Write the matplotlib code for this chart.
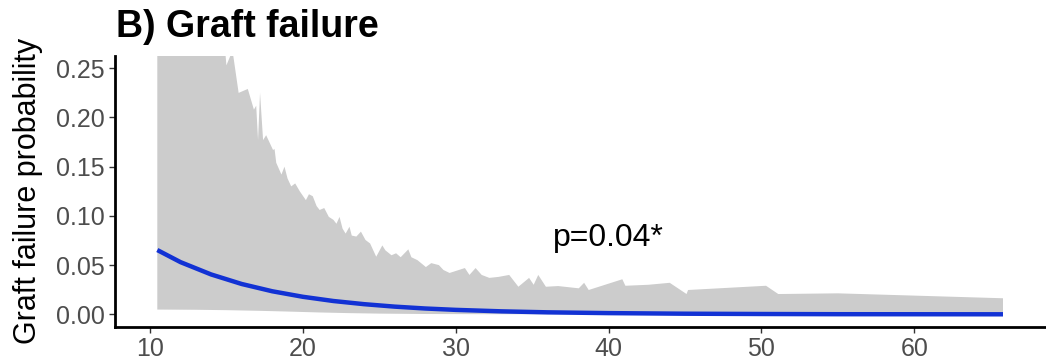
import matplotlib.pyplot as plt

plt.rcParams['font.family'] = ['Liberation Sans', 'DejaVu Sans']

# fitted curve
line_x = [10.48, 12, 14, 16, 18, 20, 22, 24, 26, 28, 30, 33, 36, 40, 45, 50, 55, 65.8]
line_y = [0.0653, 0.053, 0.0405, 0.0308, 0.0234, 0.0178, 0.0135, 0.0103, 0.0078, 0.0059,
          0.0045, 0.0030, 0.0020, 0.0012, 0.0006, 0.0003, 0.0001, 0.0]

# upper edge of the confidence band
upper_x = [10.48, 12.0, 13.5, 14.8, 15.0, 15.4, 15.8, 16.4, 16.8, 16.95, 17.07, 17.2, 17.4, 17.6,
           18.05, 18.15, 18.26, 18.6, 18.8, 19.0, 19.24, 19.5, 19.8, 20.2, 20.4, 20.65, 20.9,
           21.1, 21.4, 21.7, 22.0, 22.2, 22.4, 22.6, 22.8, 23.05, 23.2, 23.5, 23.8, 24.1, 24.4,
           24.8, 25.2, 25.4, 25.8, 26.1, 26.4, 26.9, 27.1, 27.5, 28.05, 28.4, 28.9, 29.2, 29.6,
           30.0, 30.6, 30.9, 31.3, 31.7, 32.2, 32.8, 33.5, 34.1, 34.8, 35.1, 35.4, 35.9, 36.7,
           38.05, 38.4, 38.7, 40.9, 41.1, 42.6, 44.0, 45.1, 45.2, 50.3, 51.1, 55.0, 65.8]
upper_y = [0.60, 0.45, 0.36, 0.29, 0.253, 0.268, 0.225, 0.229, 0.208, 0.212, 0.177, 0.225, 0.177,
           0.182, 0.167, 0.168, 0.154, 0.142, 0.150, 0.138, 0.130, 0.133, 0.125, 0.116, 0.122,
           0.120, 0.110, 0.106, 0.108, 0.099, 0.096, 0.092, 0.099, 0.087, 0.082, 0.089, 0.080,
           0.079, 0.084, 0.0755, 0.072, 0.0585, 0.070, 0.065, 0.060, 0.062, 0.058, 0.066, 0.058,
           0.055, 0.048, 0.052, 0.050, 0.045, 0.042, 0.044, 0.047, 0.040, 0.047, 0.040, 0.037,
           0.038, 0.040, 0.028, 0.037, 0.030, 0.040, 0.028, 0.0287, 0.0264, 0.032, 0.0247,
           0.0356, 0.029, 0.030, 0.032, 0.0206, 0.0247, 0.029, 0.0206, 0.0213, 0.0163]

# lower edge of the confidence band
lower_x = [10.48, 13.0, 15.0, 17.0, 19.0, 21.0, 23.0, 25.0, 28.0, 32.0, 40.0, 65.8]
lower_y = [0.0048, 0.0046, 0.0042, 0.0036, 0.0028, 0.0019, 0.0012, 0.0007, 0.0003, 0.0001, 0.0, 0.0]

x_ticks = [10, 20, 30, 40, 50, 60]
y_ticks = [0.00, 0.05, 0.10, 0.15, 0.20, 0.25]

fig = plt.figure(figsize=(10.46, 3.61), dpi=100)
ax = fig.add_axes([0.1099, 0.0953, 0.8899, 0.7496])

ax.fill(upper_x + lower_x[::-1], upper_y + lower_y[::-1], color='#cccccc', lw=0)
ax.plot(line_x, line_y, color='#1232d4', lw=3.2, solid_capstyle='butt')
ax.text(40, 0.0775, 'p=0.04*', fontsize=23, ha='center', va='center')

ax.set_xlim(7.71, 68.6)
ax.set_ylim(-0.0125, 0.2625)
ax.set_xticks(x_ticks)
ax.set_yticks(y_ticks)
ax.set_yticklabels(['%.2f' % v for v in y_ticks])
ax.tick_params(labelsize=18, labelcolor='#4d4d4d', color='#333333', length=4.5, width=1, pad=3)

for s in ['top', 'right']:
    ax.spines[s].set_visible(False)
for s in ['left', 'bottom']:
    ax.spines[s].set_linewidth(2)
    ax.spines[s].set_color('black')

fig.text(116 / 1046, 1 - 37 / 361, 'B) Graft failure', fontsize=27, fontweight='bold', va='baseline')
fig.text(28 / 1046, 1 - 191 / 361, 'Graft failure probability', fontsize=22, rotation=90,
         ha='center', va='center')

fig.savefig('out.png', dpi=100)
